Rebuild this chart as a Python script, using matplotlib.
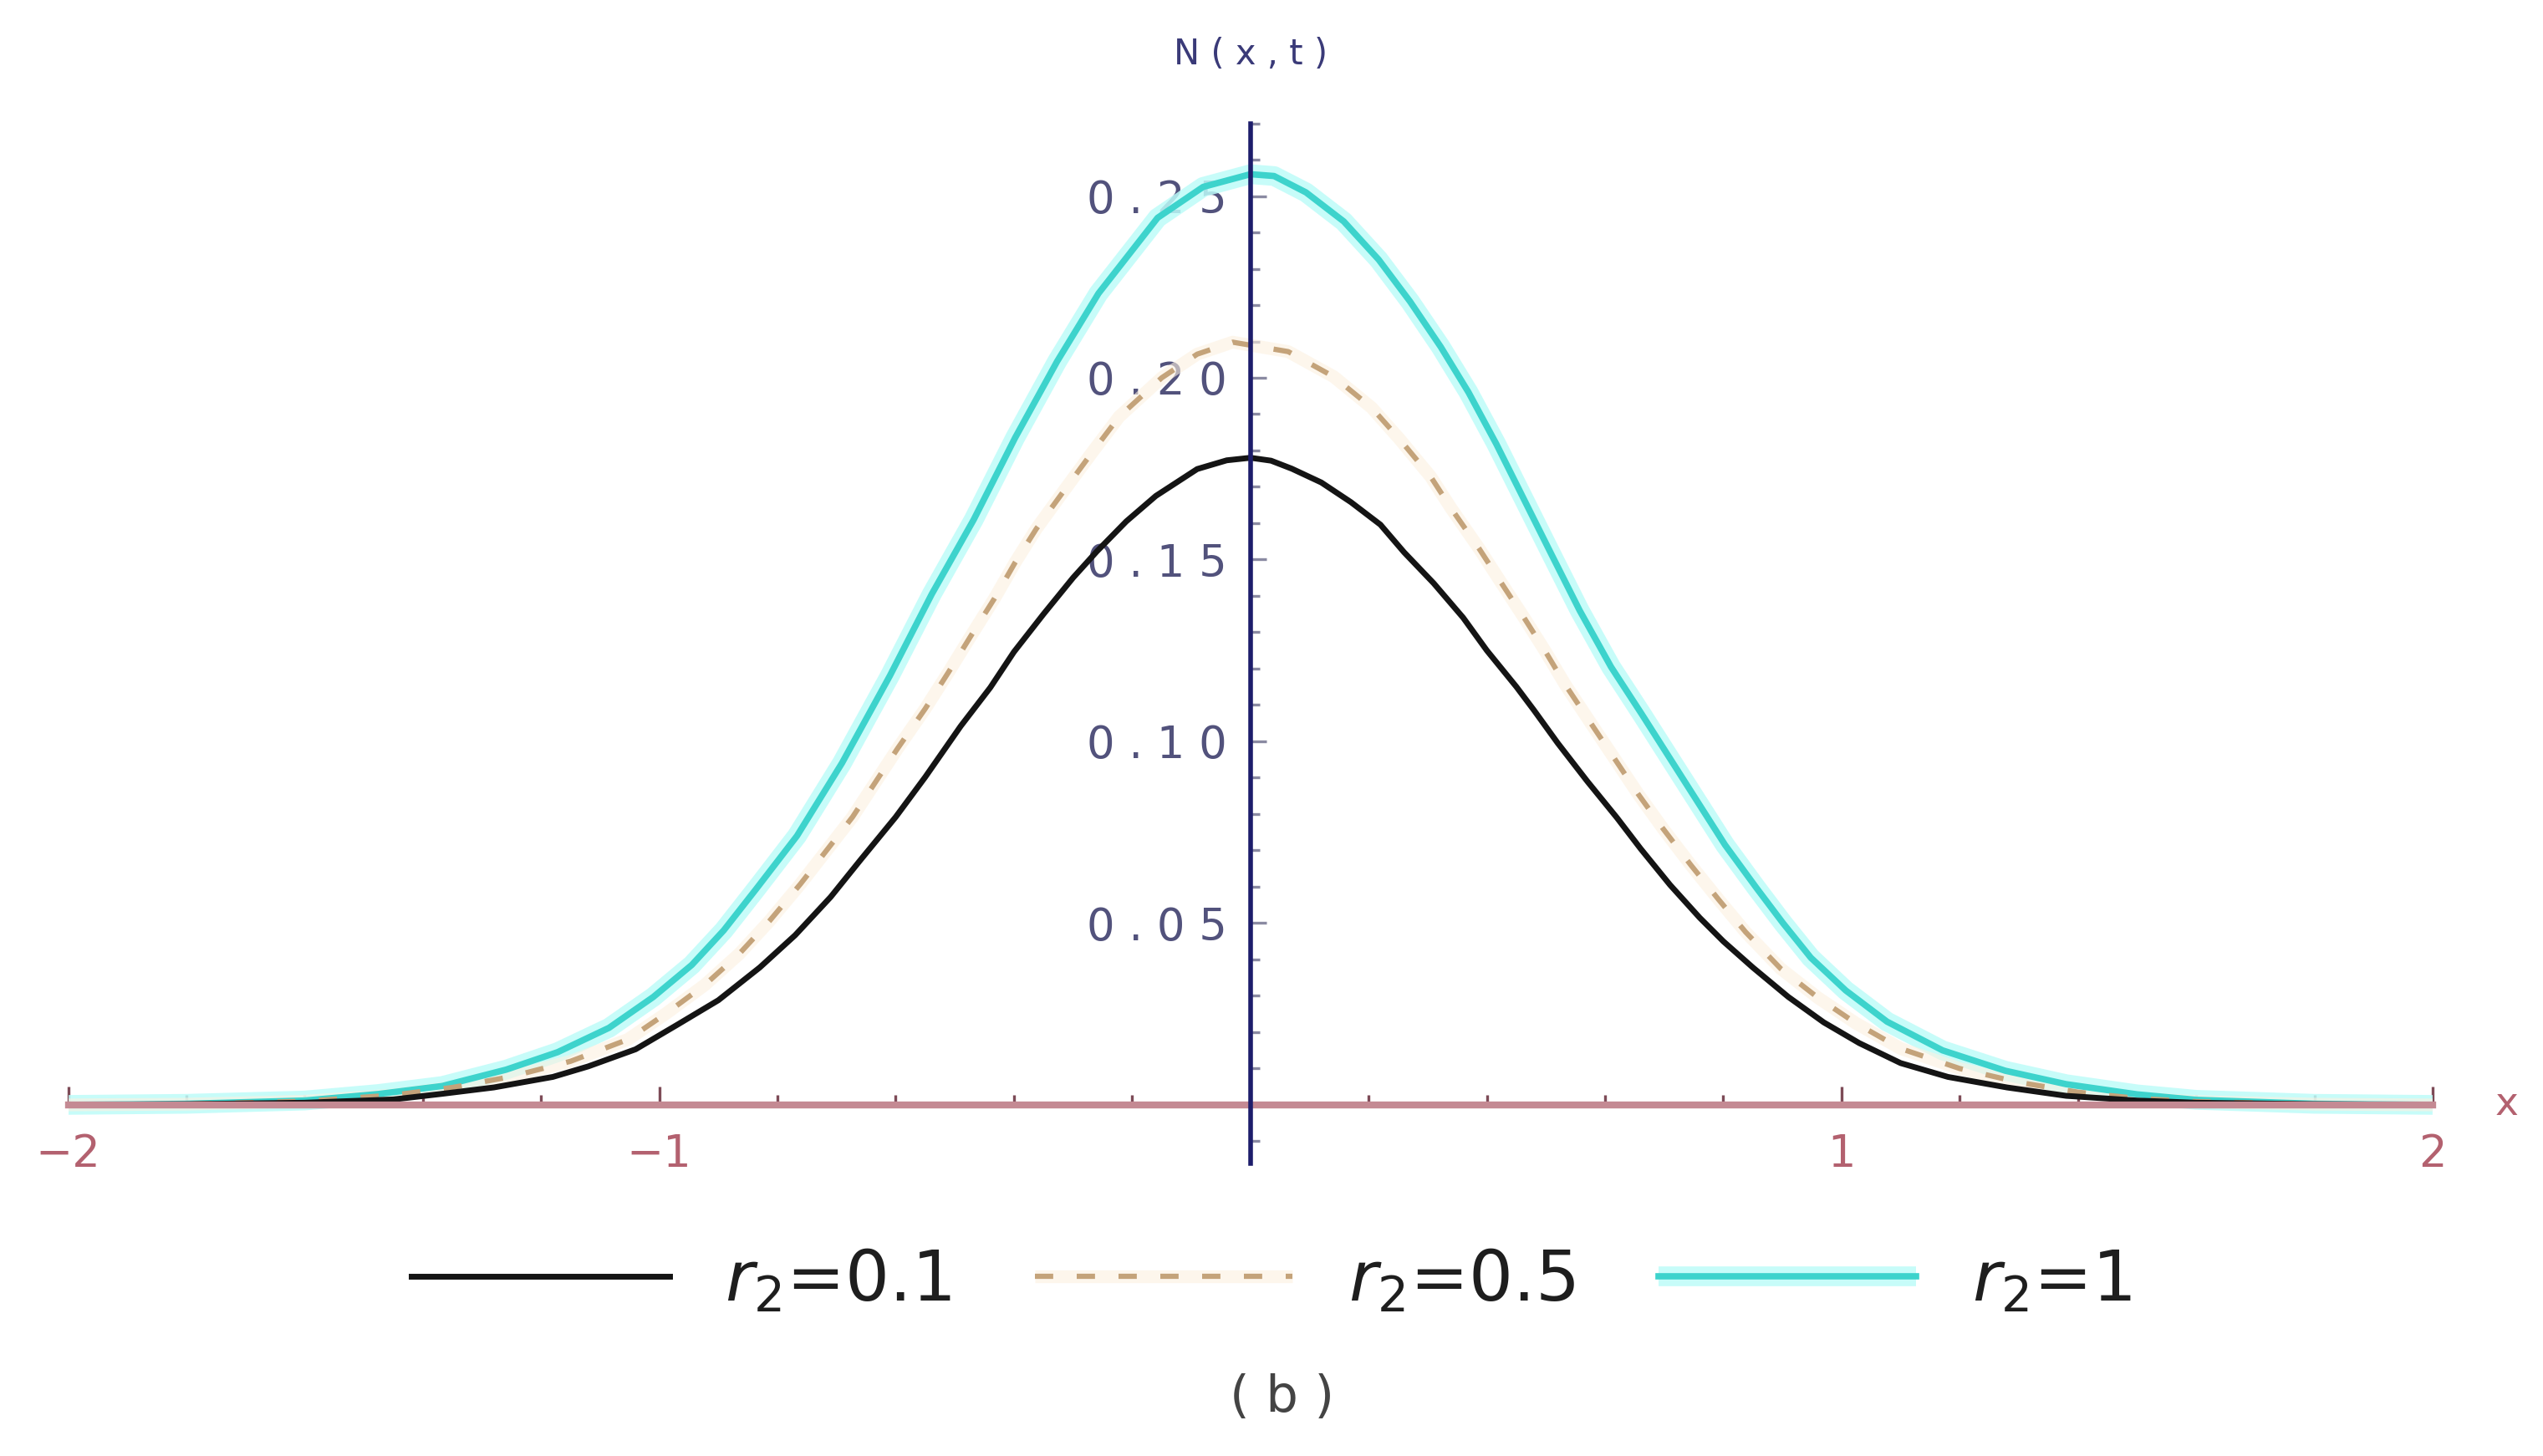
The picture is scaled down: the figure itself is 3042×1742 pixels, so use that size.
import matplotlib
matplotlib.use("Agg")
import matplotlib.pyplot as plt
from matplotlib.ticker import FixedLocator, FuncFormatter, NullFormatter
from matplotlib.legend_handler import HandlerTuple

# values
x_r01 = [-2.0, -1.8, -1.6, -1.45, -1.37, -1.28, -1.18, -1.12, -1.04, -0.97, -0.90,
         -0.83, -0.77, -0.71, -0.66, -0.60, -0.55, -0.49, -0.44, -0.40, -0.35, -0.30,
         -0.26, -0.21, -0.16, -0.09, -0.04, 0.0, 0.035, 0.07, 0.12, 0.17, 0.22, 0.26,
         0.31, 0.36, 0.40, 0.45, 0.48, 0.52, 0.57, 0.62, 0.66, 0.71, 0.76, 0.80, 0.85,
         0.91, 0.97, 1.03, 1.10, 1.18, 1.28, 1.38, 1.5, 1.6, 1.8, 2.0]
n_r01 = [0.0, 0.0002, 0.0006, 0.0015, 0.003, 0.0048, 0.0077, 0.0106, 0.0153, 0.022,
         0.0288, 0.0378, 0.0467, 0.0572, 0.0673, 0.0792, 0.0902, 0.1042, 0.1148, 0.1246,
         0.1350, 0.1450, 0.1522, 0.1605, 0.1675, 0.1749, 0.1773, 0.178, 0.1772, 0.1750,
         0.1712, 0.1658, 0.1596, 0.1520, 0.1435, 0.134, 0.125, 0.1150, 0.1085, 0.0995,
         0.0890, 0.0790, 0.0705, 0.0605, 0.0515, 0.0450, 0.0378, 0.0297, 0.0227, 0.0170,
         0.0115, 0.0077, 0.0048, 0.0025, 0.0012, 0.0006, 0.0002, 0.0]

x_r05 = [-2.0, -1.8, -1.6, -1.45, -1.35, -1.25, -1.15, -1.053, -0.988, -0.923, -0.865,
         -0.814, -0.761, -0.673, -0.597, -0.55, -0.51, -0.474, -0.433, -0.398, -0.362,
         -0.316, -0.269, -0.222, -0.15, -0.09, -0.03, 0.064, 0.141, 0.205, 0.252, 0.305,
         0.34, 0.387, 0.422, 0.463, 0.498, 0.533, 0.58, 0.615, 0.656, 0.698, 0.745,
         0.792, 0.838, 0.897, 0.96, 1.024, 1.1, 1.2, 1.3, 1.4, 1.5, 1.6, 1.8, 2.0]
n_r05 = [0.0, 0.0002, 0.001, 0.0027, 0.0048, 0.0078, 0.012, 0.018, 0.0252, 0.0330,
         0.0415, 0.0505, 0.0608, 0.0792, 0.0980, 0.1090, 0.1192, 0.1287, 0.1393, 0.1492,
         0.1585, 0.1688, 0.1792, 0.1893, 0.2000, 0.2065, 0.2098, 0.2072, 0.2003, 0.1918,
         0.1832, 0.1728, 0.1640, 0.1530, 0.1442, 0.1340, 0.1250, 0.1155, 0.1040, 0.0955,
         0.0855, 0.0760, 0.0660, 0.0565, 0.0475, 0.0375, 0.0295, 0.0225, 0.0155, 0.010,
         0.0062, 0.0035, 0.0018, 0.0009, 0.0002, 0.0]

x_r1 = [-2.0, -1.8, -1.6, -1.475, -1.367, -1.259, -1.172, -1.085, -1.01, -0.945,
        -0.891, -0.837, -0.767, -0.691, -0.61, -0.539, -0.468, -0.398, -0.327, -0.257,
        -0.157, -0.08, 0.0, 0.04, 0.094, 0.158, 0.217, 0.27, 0.322, 0.369, 0.416, 0.463,
        0.51, 0.557, 0.61, 0.662, 0.709, 0.756, 0.803, 0.856, 0.901, 0.948, 1.007, 1.077,
        1.171, 1.277, 1.38, 1.5, 1.6, 1.8, 2.0]
n_r1 = [0.0, 0.0003, 0.0012, 0.003, 0.0052, 0.0097, 0.0145, 0.0212, 0.0297, 0.0385,
        0.0480, 0.0592, 0.0740, 0.0940, 0.1180, 0.1405, 0.1610, 0.1835, 0.2045, 0.2232,
        0.2440, 0.2525, 0.2560, 0.2555, 0.2510, 0.2430, 0.2325, 0.2210, 0.2085, 0.1960,
        0.1818, 0.1665, 0.1512, 0.1360, 0.1205, 0.1075, 0.0955, 0.0835, 0.0715, 0.0597,
        0.0500, 0.0405, 0.0315, 0.0229, 0.0150, 0.0094, 0.0057, 0.0029, 0.0014, 0.0003, 0.0]

labels = [r"$r_2$=0.1", r"$r_2$=0.5", r"$r_2$=1"]
x_major = [-2, -1, 1, 2]
y_major = [0.05, 0.10, 0.15, 0.20, 0.25]

plt.rcParams['font.family'] = ['DejaVu Sans']
plt.rcParams['mathtext.fontset'] = 'dejavusans'

fig = plt.figure(figsize=(30.42, 17.42), dpi=100)
ax = fig.add_axes([0.0268, 0.1912, 0.9298, 0.7366])
ax.set_xlim(-2, 2)
ax.set_ylim(-0.02, 0.275)

# curves
black, = ax.plot(x_r01, n_r01, color='#141414', lw=5.0, zorder=3)
o_halo, = ax.plot(x_r05, n_r05, color='#fdf1e0', lw=11, alpha=0.6, zorder=2,
                  solid_capstyle='butt')
o_core, = ax.plot(x_r05, n_r05, color='#c4a37a', lw=4.5, dashes=(3.5, 4.5), zorder=2.2)
c_halo, = ax.plot(x_r1, n_r1, color='#bdfcf9', lw=17, alpha=0.85, zorder=1.8,
                  solid_capstyle='butt')
c_core, = ax.plot(x_r1, n_r1, color='#3dd3cc', lw=5.5, zorder=2.1)

# Mathematica style axes crossing at the origin
for s in ['top', 'right']:
    ax.spines[s].set_visible(False)
ax.spines['left'].set_position(('data', 0))
ax.spines['bottom'].set_position(('data', 0))
ax.spines['left'].set_bounds(-0.016, 0.27)
ax.spines['bottom'].set_bounds(-2, 2)
ax.spines['left'].set_color('#1d1d6b')
ax.spines['left'].set_linewidth(4)
ax.spines['bottom'].set_color('#c48a93')
ax.spines['bottom'].set_linewidth(6)
ax.spines['left'].set_zorder(4)
ax.spines['bottom'].set_zorder(3.5)

x_minor = [round(-2 + 0.2 * i, 1) for i in range(21)]
x_minor = [v for v in x_minor if v != 0 and v not in x_major]
ax.xaxis.set_major_locator(FixedLocator(x_major))
ax.xaxis.set_minor_locator(FixedLocator(x_minor))
ax.xaxis.set_major_formatter(FuncFormatter(lambda v, p: f"\u2212{abs(int(v))}" if v < 0 else f"{int(v)}"))
ax.xaxis.set_minor_formatter(NullFormatter())
ax.tick_params(axis='x', which='both', direction='in', colors='#7d4b57', width=2.4,
               labelcolor='#b3616f', labelsize=38, pad=24)
ax.tick_params(axis='x', which='major', length=16)
ax.tick_params(axis='x', which='minor', length=9)

y_minor = [round(-0.01 + 0.01 * i, 2) for i in range(29) if i % 5 != 1]
ax.yaxis.set_major_locator(FixedLocator(y_major))
ax.yaxis.set_minor_locator(FixedLocator(y_minor))
ax.yaxis.set_major_formatter(FuncFormatter(lambda v, p: " ".join(f"{v:.2f}")))
ax.yaxis.set_minor_formatter(NullFormatter())
ax.tick_params(axis='y', which='both', direction='in', colors='#8a8aa2', width=2.4,
               labelcolor='#52527c', labelsize=38, pad=20)
ax.tick_params(axis='y', which='major', length=14)
ax.tick_params(axis='y', which='minor', length=8)

ax.text(0, 0.289, "N ( x , t )", ha='center', va='center', fontsize=30, color='#3a3a78',
        clip_on=False)
ax.text(2.126, 0.0, "x", ha='center', va='center', fontsize=34, color='#b3616f',
        clip_on=False)

ax.legend([black, (o_halo, o_core), (c_halo, c_core)], labels,
          handler_map={tuple: HandlerTuple(ndivide=1)},
          loc='center', bbox_to_anchor=(0.5, 0.12), bbox_transform=fig.transFigure,
          ncol=3, frameon=False, fontsize=60, handlelength=3.7, handletextpad=0.8,
          columnspacing=1.2, labelcolor='#1e1e1e')

fig.text(0.504, 0.040, "( b )", ha='center', va='center', fontsize=44, color='#444444')

fig.savefig('out.png', dpi=100)
